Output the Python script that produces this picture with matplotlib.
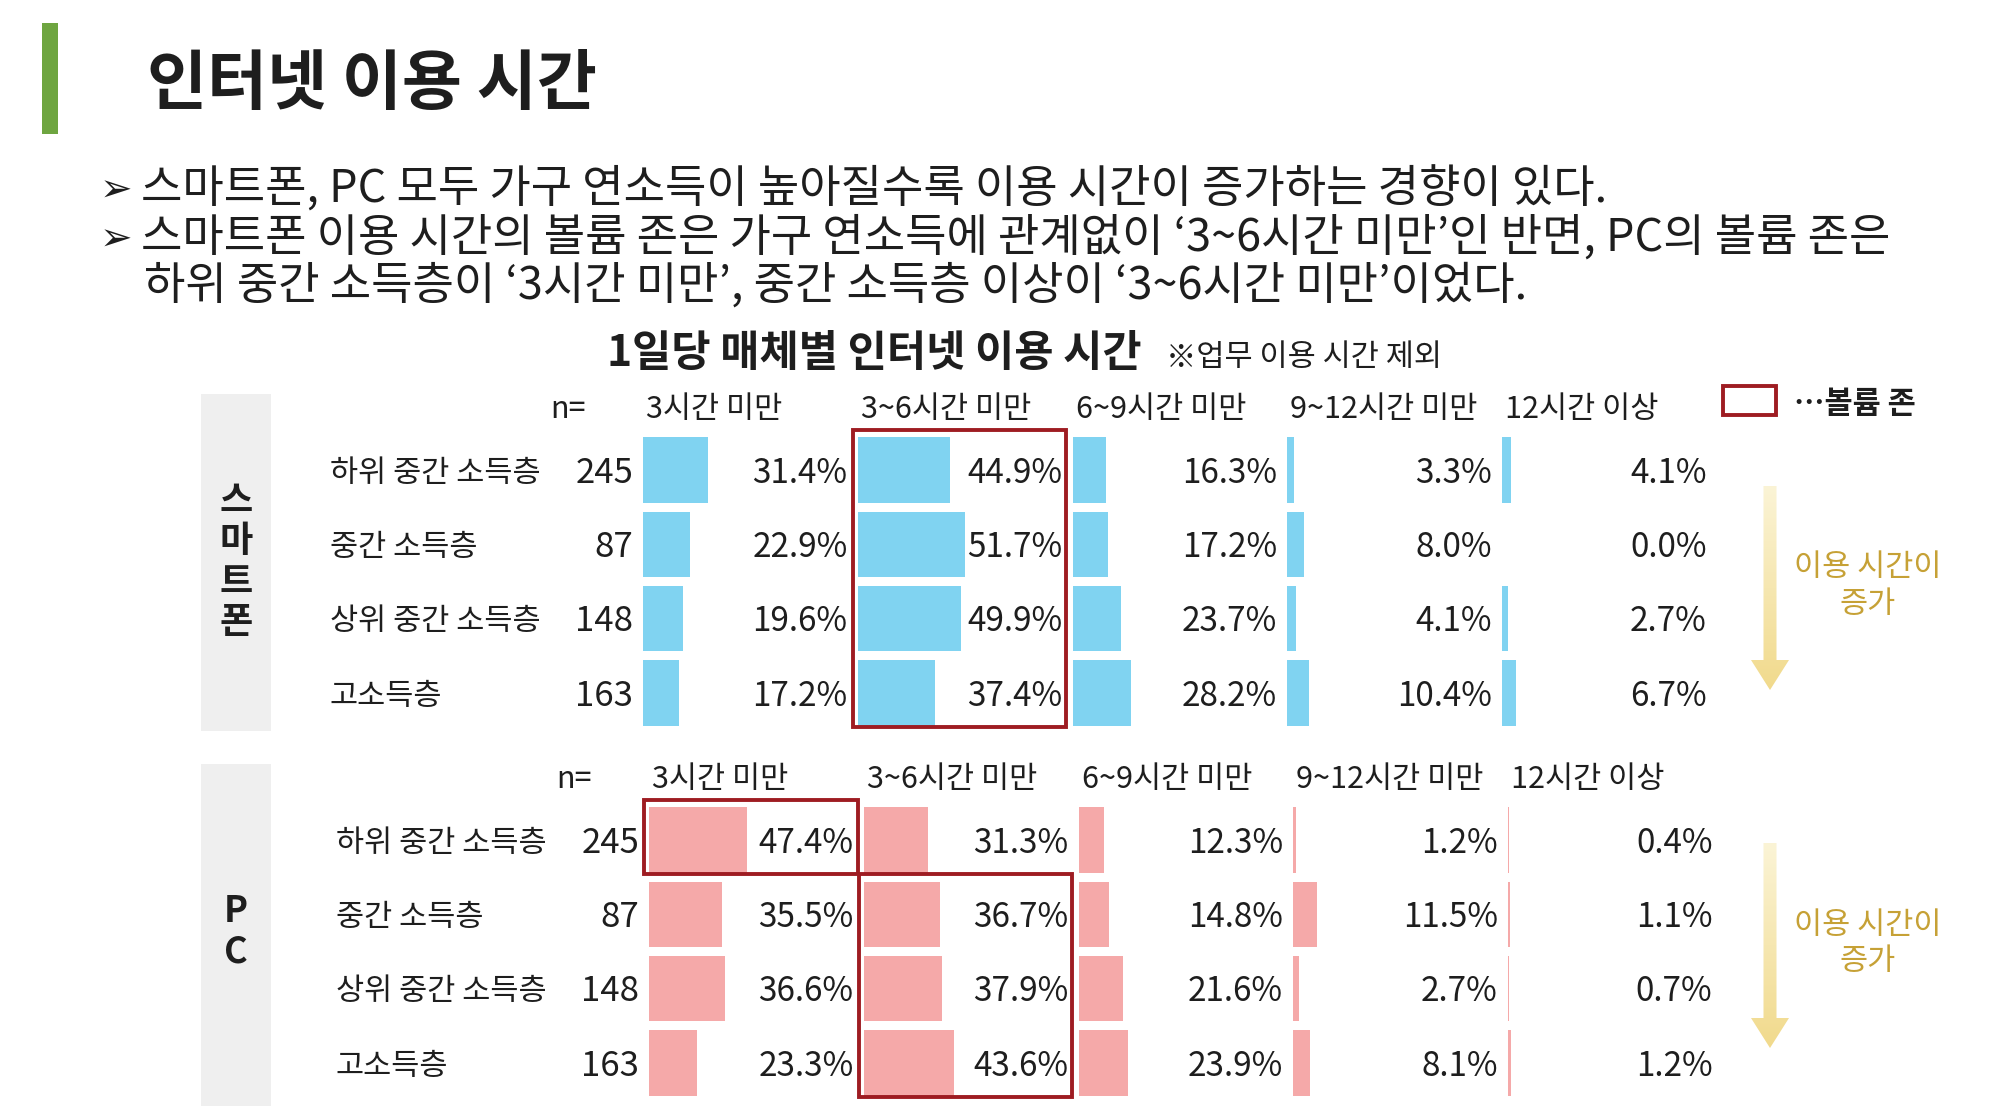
import numpy as np
import matplotlib
matplotlib.use("Agg")
import matplotlib.pyplot as plt
from matplotlib.patches import Rectangle, FancyArrow

plt.rcParams['font.family'] = ['Noto Sans CJK KR', 'DejaVu Sans']

# === 데이터 ===
categories = ['하위 중간 소득층', '중간 소득층', '상위 중간 소득층', '고소득층']
n_counts = [245, 87, 148, 163]
time_bins = ['3시간 미만', '3~6시간 미만', '6~9시간 미만', '9~12시간 미만', '12시간 이상']
smartphone_pct = [
    [31.4, 44.9, 16.3, 3.3, 4.1],
    [22.9, 51.7, 17.2, 8.0, 0.0],
    [19.6, 49.9, 23.7, 4.1, 2.7],
    [17.2, 37.4, 28.2, 10.4, 6.7],
]
pc_pct = [
    [47.4, 31.3, 12.3, 1.2, 0.4],
    [35.5, 36.7, 14.8, 11.5, 1.1],
    [36.6, 37.9, 21.6, 2.7, 0.7],
    [23.3, 43.6, 23.9, 8.1, 1.2],
]

title = '인터넷 이용 시간'
bullets = [
    '스마트폰, PC 모두 가구 연소득이 높아질수록 이용 시간이 증가하는 경향이 있다.',
    '스마트폰 이용 시간의 볼륨 존은 가구 연소득에 관계없이 ‘3~6시간 미만’인 반면, PC의 볼륨 존은',
    '하위 중간 소득층이 ‘3시간 미만’, 중간 소득층 이상이 ‘3~6시간 미만’이었다.',
]
chart_title = '1일당 매체별 인터넷 이용 시간'
chart_note = '※업무 이용 시간 제외'

# === 스타일 ===
W, H = 2008, 1106
TXT = '#1e1e1e'
ZONE = '#9e1c22'
GOLD = '#c6a136'
COL_STEP = 104      # 열 간격 (퍼센트 단위)
PX = 2.065          # 1% 당 픽셀
ROW_PITCH = 74.3
DY = 0.04           # 글자 세로 보정 (행 단위)

fig = plt.figure(figsize=(W / 100, H / 100), dpi=100)
bg = fig.add_axes([0, 0, 1, 1])
bg.set_xlim(0, W)
bg.set_ylim(H, 0)
bg.axis('off')

# 제목
bg.add_patch(Rectangle((42, 23), 16, 111, color='#6ea540', lw=0))
bg.text(147, 85, title, fontsize=47, fontweight='bold', color=TXT, va='center')

# 설명문
bullet_y = [189, 238, 286]
for i, (line, y) in enumerate(zip(bullets, bullet_y)):
    if i < 2:
        bg.text(100, y + 2, '➢', fontsize=28, color=TXT, va='center', family=['DejaVu Sans'])
    bg.text(141 if i < 2 else 144, y, line, fontsize=32.4, color=TXT, va='center')

bg.text(607, 353, chart_title, fontsize=30.7, fontweight='bold', color=TXT, va='center')
bg.text(1166, 357, chart_note, fontsize=22, color=TXT, va='center')

# 범례
bg.add_patch(Rectangle((1723, 386), 53, 29, fill=False, ec=ZONE, lw=2.8))
bg.text(1794, 404, '…볼륨 존', fontsize=22, color=TXT, va='center', fontweight='bold')

# 화살표 그라데이션
grad = np.linspace(0, 1, 256).reshape(-1, 1)
arrow_cmap = matplotlib.colors.LinearSegmentedColormap.from_list(
    'arr', ['#fbf4d6', '#f1da8c'])


def draw_section(top, x_off, pct, bar_color, side_label, side_box, arrow_y):
    pct = np.array(pct)
    left = 643 + x_off
    ax = fig.add_axes([left / W, 1 - (top + 4 * ROW_PITCH) / H,
                       5 * COL_STEP * PX / W, 4 * ROW_PITCH / H])
    ax.set_xlim(0, 5 * COL_STEP)
    ax.set_ylim(3.5, -0.5)
    ax.axis('off')
    rows = np.arange(len(categories))

    for j, hdr in enumerate(time_bins):
        ax.barh(rows, pct[:, j], left=j * COL_STEP, height=0.88,
                color=bar_color, lw=0)
        ax.text(j * COL_STEP + 1.5, -0.865 + 0.05, hdr, fontsize=22, color=TXT,
                ha='left', va='center')
        for i in rows:
            ax.text(j * COL_STEP + 99, i + DY, f'{pct[i, j]:.1f}%', fontsize=24,
                    color=TXT, ha='right', va='center')

    ax.text(-45, -0.865 + 0.05, 'n=', fontsize=22, color=TXT, ha='left', va='center')
    for i, (cat, n) in enumerate(zip(categories, n_counts)):
        ax.text(-151.6, i + DY, cat, fontsize=22, color=TXT, ha='left', va='center')
        ax.text(-4.8, i + DY, str(n), fontsize=25, color=TXT, ha='right', va='center')

    # 볼륨 존: 행별 최대 열을 묶어서 테두리
    best = pct.argmax(axis=1)
    start = 0
    for i in range(1, len(best) + 1):
        if i == len(best) or best[i] != best[start]:
            y_top = start - 0.5 - 0.04
            y_bot = (i - 1) + 0.5 - 0.04
            ax.add_patch(Rectangle((best[start] * COL_STEP - 2.5, y_top),
                                   103.5, y_bot - y_top, fill=False,
                                   ec=ZONE, lw=2.8, clip_on=False))
            start = i

    # 좌측 구분 박스
    x0, y0, y1, yc = side_box
    bg.add_patch(Rectangle((x0, y0), 70, y1 - y0, color='#efefef', lw=0))
    bg.text(x0 + 35, yc, side_label, fontsize=26, fontweight='bold',
            color=TXT, ha='center', va='center', linespacing=1.12)

    # 증가 화살표
    a0, a1 = arrow_y
    arr = FancyArrow(1770, a0, 0, a1 - a0, width=13, head_width=38,
                     head_length=30, length_includes_head=True,
                     fc='none', ec='none')
    bg.add_patch(arr)
    im = bg.imshow(grad, cmap=arrow_cmap, aspect='auto',
                   extent=(1745, 1795, a1, a0), zorder=1)
    im.set_clip_path(arr)
    bg.text(1868, (a0 + a1) / 2 - 2, '이용 시간이\n증가', fontsize=22, color=GOLD,
            ha='center', va='center', linespacing=1.25)
    return ax


draw_section(433, 0, smartphone_pct, '#80d3f1', '스\n마\n트\n폰',
             (201, 394, 731, 562), (486, 690))
draw_section(803, 6, pc_pct, '#f5a9a9', 'P\nC',
             (201, 764, 1120, 932), (843, 1048))

bg.set_xlim(0, W)
bg.set_ylim(H, 0)
fig.savefig('out.png', dpi=100, facecolor='white')
